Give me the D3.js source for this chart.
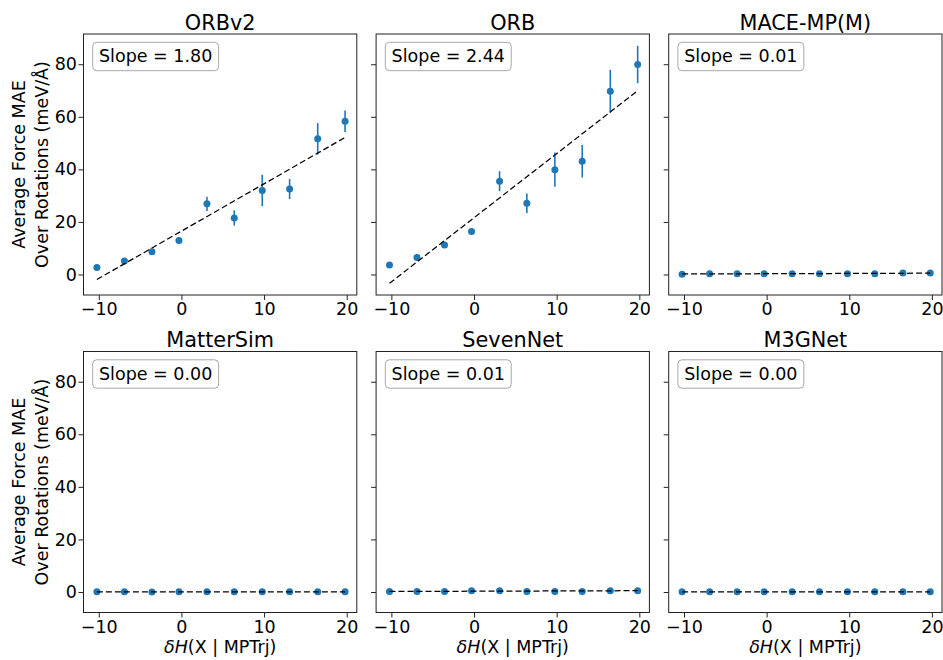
<!DOCTYPE html>
<html>
<head>
<meta charset="utf-8">
<script src="https://cdn.jsdelivr.net/npm/d3@7"></script>
<style>
  html, body { margin: 0; padding: 0; background: #fff; }
  svg { display: block; font-family: "DejaVu Sans", sans-serif; }
</style>
</head>
<body>
<svg id="chart" width="943" height="660"></svg>
<script>
// Bin centres of δH(X | MPTrj), shared by every model
const binCenters = [-10.23, -6.9, -3.57, -0.3, 3.09, 6.39, 9.78, 13.09, 16.49, 19.8];

// Model names, in panel order (row by row)
const modelNames = ["ORBv2", "ORB", "MACE-MP(M)", "MatterSim", "SevenNet", "M3GNet"];

// Mean force MAE over rotations (meV/Å) per bin, and its spread
const orbv2Mae   = [2.7, 5.1, 8.7, 12.9, 26.9, 21.5, 32.0, 32.5, 51.6, 58.3];
const orbv2Err   = [0.6, 0.7, 1.0, 1.0, 2.7, 2.9, 6.0, 3.8, 6.0, 4.1];
const orbMae     = [3.6, 6.5, 11.2, 16.4, 35.5, 27.1, 39.9, 43.1, 69.7, 79.9];
const orbErr     = [0.8, 1.2, 1.0, 1.0, 3.8, 3.7, 6.5, 6.2, 8.2, 7.1];
const maceMae    = [0.1, 0.3, 0.3, 0.3, 0.3, 0.3, 0.3, 0.3, 0.6, 0.6];
const maceErr    = [0.1, 0.1, 0.1, 0.1, 0.1, 0.1, 0.1, 0.1, 0.2, 0.2];
const mattersimMae = [0.05, 0.05, 0.04, 0.05, 0.05, 0.05, 0.05, 0.05, 0.05, 0.05];
const mattersimErr = [0.02, 0.02, 0.02, 0.02, 0.02, 0.02, 0.02, 0.02, 0.02, 0.02];
const sevennetMae  = [0.2, 0.2, 0.2, 0.5, 0.5, 0.2, 0.2, 0.2, 0.5, 0.5];
const sevennetErr  = [0.1, 0.1, 0.1, 0.1, 0.1, 0.1, 0.1, 0.1, 0.1, 0.1];
const m3gnetMae    = [0.05, 0.05, 0.05, 0.05, 0.05, 0.05, 0.05, 0.05, 0.05, 0.05];
const m3gnetErr    = [0.02, 0.02, 0.02, 0.02, 0.02, 0.02, 0.02, 0.02, 0.02, 0.02];

// Linear fit per model: slope (as printed) and intercept
const fitSlopes     = [1.80, 2.44, 0.01, 0.00, 0.01, 0.00];
const fitIntercepts = [16.5, 21.6, 0.3, 0.05, 0.3, 0.05];

// Axis ticks
const xTicks = [-10, 0, 10, 20];
const yTicks = [0, 20, 40, 60, 80];

const maeSeries = [orbv2Mae, orbMae, maceMae, mattersimMae, sevennetMae, m3gnetMae];
const errSeries = [orbv2Err, orbErr, maceErr, mattersimErr, sevennetErr, m3gnetErr];

// Layout of the 2 x 3 grid
const colLefts = [83.5, 376.1, 668.7];
const panelW = 273.3;
const rowTops = [34, 351.5];
const panelH = 261;
const xDomain = [-11.85, 21.22];
const yDomain = [-7.8, 91.5];

const BLUE = "#1f77b4";
const FS = 17.5;
const TITLE_FS = 20.8;

const svg = d3.select("#chart");

modelNames.forEach((name, i) => {
  const row = Math.floor(i / 3), col = i % 3;
  const left = colLefts[col], top = rowTops[row];
  const x = d3.scaleLinear().domain(xDomain).range([0, panelW]);
  const y = d3.scaleLinear().domain(yDomain).range([panelH, 0]);

  const g = svg.append("g").attr("transform", `translate(${left},${top})`);

  // y axis: labels only on the first column
  const yAxis = d3.axisLeft(y).tickValues(yTicks).tickSize(5).tickPadding(1.5)
    .tickFormat(col === 0 ? d3.format("d") : () => "");
  const ya = g.append("g").call(yAxis);
  ya.select(".domain").remove();
  ya.selectAll("line").attr("stroke", "#222").attr("stroke-width", 1);
  ya.selectAll("text").attr("font-size", FS).attr("fill", "#000")
    .attr("font-family", "DejaVu Sans, sans-serif");

  // x axis
  const xAxis = d3.axisBottom(x).tickValues(xTicks).tickSize(5).tickPadding(3)
    .tickFormat(d3.format("d"));
  const xa = g.append("g").attr("transform", `translate(0,${panelH})`).call(xAxis);
  xa.select(".domain").remove();
  xa.selectAll("line").attr("stroke", "#222").attr("stroke-width", 1);
  xa.selectAll("text").attr("font-size", FS).attr("fill", "#000")
    .attr("font-family", "DejaVu Sans, sans-serif");

  const pts = binCenters.map((bx, k) => ({ x: bx, y: maeSeries[i][k], e: errSeries[i][k] }));

  // error bars
  g.append("g").selectAll("line").data(pts).join("line")
    .attr("x1", d => x(d.x)).attr("x2", d => x(d.x))
    .attr("y1", d => y(d.y - d.e)).attr("y2", d => y(d.y + d.e))
    .attr("stroke", BLUE).attr("stroke-width", 1.6);

  // markers
  g.append("g").selectAll("circle").data(pts).join("circle")
    .attr("cx", d => x(d.x)).attr("cy", d => y(d.y)).attr("r", 3.5)
    .attr("fill", BLUE);

  // fitted line across the bin range
  const xs0 = binCenters[0], xs1 = binCenters[binCenters.length - 1];
  const fit = [xs0, xs1].map(v => ({ x: v, y: fitSlopes[i] * v + fitIntercepts[i] }));
  g.append("path")
    .attr("d", d3.line().x(d => x(d.x)).y(d => y(d.y))(fit))
    .attr("fill", "none").attr("stroke", "#000").attr("stroke-width", 1.25)
    .attr("stroke-dasharray", "6,3");

  // frame
  g.append("rect").attr("x", 0).attr("y", 0).attr("width", panelW).attr("height", panelH)
    .attr("fill", "none").attr("stroke", "#222").attr("stroke-width", 1);

  // slope annotation box
  const boxX = 9.2, boxY = 8.3;
  const box = g.append("rect")
    .attr("x", boxX).attr("y", boxY).attr("height", 28.4)
    .attr("rx", 4).attr("ry", 4)
    .attr("fill", "#fff").attr("stroke", "#a8a8a8").attr("stroke-width", 1);
  const label = g.append("text")
    .attr("x", boxX + 6.3).attr("y", boxY + 19.7)
    .attr("font-size", FS).attr("fill", "#000")
    .text(`Slope = ${fitSlopes[i].toFixed(2)}`);
  const tw = label.node().getComputedTextLength();
  box.attr("width", tw + 12.6);

  // panel title
  g.append("text").attr("x", panelW / 2).attr("y", -4.5)
    .attr("text-anchor", "middle").attr("font-size", TITLE_FS).attr("fill", "#000")
    .text(name);

  // x label on the bottom row
  if (row === 1) {
    const xl = g.append("text").attr("x", panelW / 2).attr("y", panelH + 40)
      .attr("text-anchor", "middle").attr("font-size", FS).attr("fill", "#000");
    xl.append("tspan").attr("font-style", "italic").text("δH");
    xl.append("tspan").text("(X | MPTrj)");
  }

  // y label on the first column
  if (col === 0) {
    const cy = panelH / 2;
    [["Average Force MAE", 24.5], ["Over Rotations (meV/Å)", 47.6]].forEach(([t, bx]) => {
      g.append("text")
        .attr("transform", `translate(${bx - left},${cy}) rotate(-90)`)
        .attr("text-anchor", "middle").attr("font-size", FS).attr("fill", "#000")
        .text(t);
    });
  }
});
</script>
</body>
</html>
